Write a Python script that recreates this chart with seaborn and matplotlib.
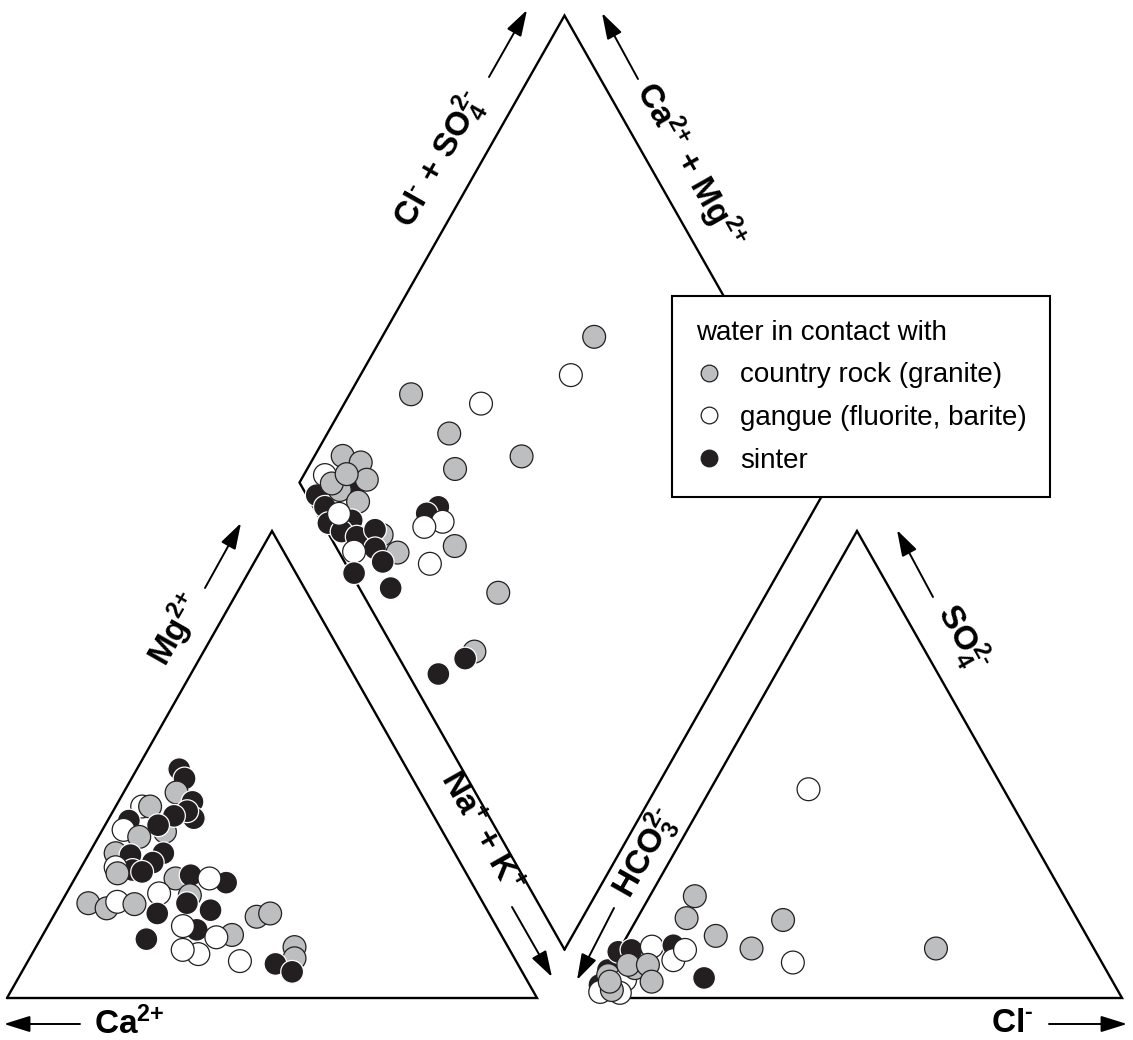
import numpy as np
import pandas as pd
import matplotlib
matplotlib.use("Agg")
import matplotlib.pyplot as plt
from matplotlib.lines import Line2D
import seaborn as sns

# --- data --------------------------------------------------------------
# g = country rock, w = gangue, b = sinter ; listed back-to-front

# cation triangle: Mg2+ %, Na+ + K+ %
cat_grp = ["b", "b", "g", "b", "g", "b", "b", "w", "g", "b", "b", "b", "w", "g", "g",
           "b", "b", "b", "b", "b", "w", "g",
           "g", "b", "b", "w", "g", "g", "w", "g", "w", "g", "b", "b", "b", "g", "g",
           "b", "g", "w", "w", "b", "w", "w", "w", "g", "g", "b", "b"]
cat_mg = [49, 47, 44, 42, 35.6, 38.5, 40, 41, 41, 38, 39, 37, 36, 34.5, 31,
          30.6, 31, 27.4, 29, 27, 28, 26.7,
          25.6, 26.3, 24.7, 25.6, 20.3, 19.2, 20.6, 20.1, 22.4, 22, 20.3, 18.1, 18.8, 17.4, 18.1,
          14.6, 13.5, 15.4, 13, 12.6, 9.4, 10.3, 7.9, 10.9, 8.5, 7.3, 5.6]
cat_nak = [8, 10, 10, 14, 12, 16, 14, 5, 6.5, 4, 12, 10, 4, 7.7, 5,
           8, 14, 10, 13, 12, 6.5, 7.5,
           19, 21.5, 29, 25.4, 5.2, 9.2, 10.5, 14, 17.5, 23.5, 23.8, 19.3, 29, 38.4, 40.6,
           28.5, 35.7, 25.5, 33, 20, 31.4, 28, 40, 48.8, 50, 47, 51]

# anion triangle: SO4 2- %, Cl- %
an_grp = ["b", "b", "w", "b", "b", "g", "w", "g", "g", "w", "g", "g", "w", "b", "g",
          "w", "w", "g", "b", "g", "g", "g", "g", "g", "w", "g", "w"]
an_so4 = [2.8, 6, 1.3, 9.9, 10.3, 4.9, 3.9, 6.4, 7.1, 1.1, 1.7, 3.5, 11, 11.3, 7.1,
          8.1, 10.3, 3.5, 4.3, 21.8, 17.1, 13.3, 10.6, 16.7, 7.6, 10.6, 44.7]
an_cl = [0, 0, 0.9, 0, 2.3, 0.6, 4.3, 4.9, 3.3, 4.7, 2.9, 1.6, 5.8, 9.7, 7,
         11.3, 12.4, 9.5, 19, 8.5, 9.3, 16.7, 24.8, 27.7, 34.1, 59.6, 18.5]

# diamond: Cl- + SO4 2- %, Ca2+ + Mg2+ %
dia_grp = ["g", "w", "g", "w", "g", "g", "g", "b", "b", "b", "w", "g", "g", "g", "g",
           "g", "g", "g", "b", "b", "b", "b", "w", "g", "b", "b", "g", "b", "w", "b",
           "b", "b", "b", "w", "w", "g", "w", "g", "g", "b", "b"]
dia_an = [71.2, 62.7, 30.5, 42.7, 33.5, 30.8, 44.7, 1.9, 2.2, 9.2, 5.6, 11.0, 13.7, 13.0, 6.8,
          6.0, 9.8, 9.0, 5.8, 1.1, 2.7, 5.0, 4.1, 9.9, 9.2, 7.2, 11.0, 7.2, 2.9, 0.6,
          5.9, 23.6, 20.7, 22.8, 18.8, 22.5, 15.9, 25.7, 14.9, 12.4, 5.7]
dia_cat = [60.0, 60.3, 88.4, 74.2, 77.0, 72.1, 60.9, 95.4, 92.6, 88.9, 96.0, 94.7, 90.6, 87.6, 91.6,
           93.8, 92.0, 86.9, 86.1, 90.2, 86.8, 83.4, 89.2, 78.9, 80.7, 78.7, 74.0, 75.8, 82.3, 80.0,
           71.5, 71.2, 72.7, 68.8, 71.7, 63.9, 66.7, 50.7, 48.9, 49.9, 53.3]

group_names = {"g": "country rock (granite)", "w": "gangue (fluorite, barite)", "b": "sinter"}
palette = {"country rock (granite)": "#bcbec0",
           "gangue (fluorite, barite)": "#ffffff",
           "sinter": "#231f20"}
edges = {"country rock (granite)": "#231f20",
         "gangue (fluorite, barite)": "#231f20",
         "sinter": "#ffffff"}

# --- geometry (triangle side = 100 units) ------------------------------
S = 5.3            # px per unit
X0, Y0 = 7, 998    # pixel position of the Ca2+ corner
H = 467 / S        # triangle height
GAP = 585 / S - 100
XR = 100 + GAP     # left corner of the anion triangle
DB = (100 + GAP / 2, GAP * H / 100)   # bottom vertex of the diamond


def cation_xy(mg, nak):
    mg, nak = np.asarray(mg), np.asarray(nak)
    return nak + mg / 2, mg * H / 100


def anion_xy(so4, cl):
    so4, cl = np.asarray(so4), np.asarray(cl)
    return XR + cl + so4 / 2, so4 * H / 100


def diamond_xy(an, cat):
    an, cat = np.asarray(an), np.asarray(cat)
    return DB[0] + 0.5 * (an - cat), DB[1] + (an + cat) * H / 100


def px(xp, yp):
    return (xp - X0) / S, (Y0 - yp) / S


def frame(pts):
    xs, ys = zip(*(pts + [pts[0]]))
    return xs, ys


sns.set_theme(style="white")
plt.rcParams["font.family"] = ["Liberation Sans", "DejaVu Sans"]
plt.rcParams["text.color"] = "black"
plt.rcParams["mathtext.fontset"] = "custom"
plt.rcParams["mathtext.rm"] = "Liberation Sans:bold"
plt.rcParams["mathtext.default"] = "regular"

fig = plt.figure(figsize=(11.33, 10.40), dpi=100)
ax = fig.add_axes([0, 0, 1, 1])
ax.set_xlim(-X0 / S, (1133 - X0) / S)
ax.set_ylim((Y0 - 1040) / S, Y0 / S)
ax.axis("off")

lw = 1.7
tri_l = [(0, 0), (100, 0), (50, H)]
tri_r = [(XR, 0), (XR + 100, 0), (XR + 50, H)]
dia = [DB, (DB[0] - 50, DB[1] + H), (DB[0], DB[1] + 2 * H), (DB[0] + 50, DB[1] + H)]
for poly in (tri_l, tri_r, dia):
    xs, ys = frame(poly)
    ax.plot(xs, ys, color="black", lw=lw, solid_joinstyle="miter", zorder=1)

# --- points --------------------------------------------------------------
panels = []
x, y = cation_xy(cat_mg, cat_nak)
panels.append(pd.DataFrame({"x": x, "y": y, "group": [group_names[g] for g in cat_grp]}))
x, y = anion_xy(an_so4, an_cl)
panels.append(pd.DataFrame({"x": x, "y": y, "group": [group_names[g] for g in an_grp]}))
x, y = diamond_xy(dia_an, dia_cat)
panels.append(pd.DataFrame({"x": x, "y": y, "group": [group_names[g] for g in dia_grp]}))

for df in panels:
    sns.scatterplot(data=df, x="x", y="y", hue="group", palette=palette, s=270,
                    edgecolor=[edges[g] for g in df["group"]], linewidth=0.9,
                    legend=False, ax=ax, zorder=3)
ax.set_xlabel("")
ax.set_ylabel("")

# --- axis labels and arrows ---------------------------------------------
lab = dict(fontsize=24, fontweight="bold", ha="center", va="center",
           rotation_mode="anchor", color="black")
ang = np.degrees(np.arctan2(H, 50))
arrow = dict(arrowstyle="-|>,head_length=0.8,head_width=0.25", color="black",
             lw=1.4, shrinkA=0, shrinkB=0, mutation_scale=20)


def arr(p0, p1):
    ax.annotate("", xy=px(*p1), xytext=px(*p0), arrowprops=arrow, zorder=4)


ax.text(*px(440, 160), r"Cl$^{\text{-}}$ + SO$_{\text{4}}^{\text{2-}}$", rotation=ang, **lab)
arr((489, 77), (527, 10))
ax.text(*px(690, 165), r"Ca$^{\text{2+}}$ + Mg$^{\text{2+}}$", rotation=-ang, **lab)
arr((638, 79), (602, 13))
ax.text(*px(176, 630), r"Mg$^{\text{2+}}$", rotation=ang, **lab)
arr((205, 588), (241, 523))
ax.text(*px(480, 832), r"Na$^{\text{+}}$ + K$^{\text{+}}$", rotation=-ang, **lab)
arr((512, 907), (552, 977))
ax.text(*px(646, 853), r"HCO$_{\text{3}}^{\text{2-}}$", rotation=ang, **lab)
arr((614, 908), (577, 980))
ax.text(*px(962, 638), r"SO$_{\text{4}}^{\text{2-}}$", rotation=-ang, **lab)
arr((933, 597), (897, 530))

ax.text(*px(94, 1024), r"Ca$^{\text{2+}}$", fontsize=24, fontweight="bold", ha="left", va="center")
arr((80, 1024), (4, 1024))
ax.text(*px(1033, 1024), r"Cl$^{\text{-}}$", fontsize=24, fontweight="bold", ha="right", va="center")
arr((1049, 1024), (1127, 1024))

# --- legend ----------------------------------------------------------------
handles = [Line2D([], [], ls="", marker="o", markersize=12, markerfacecolor=palette[n],
                  markeredgecolor="#231f20", markeredgewidth=0.9)
           for n in palette]
leg = ax.legend(handles, list(palette), title="water in contact with",
                loc="upper left", bbox_to_anchor=(672 / 1133, 1 - 296 / 1040),
                bbox_transform=fig.transFigure, borderaxespad=0,
                fontsize=20, title_fontsize=20, alignment="left",
                frameon=True, fancybox=False, framealpha=1, edgecolor="black",
                borderpad=0.85, labelspacing=0.6, handlelength=1.0, handletextpad=0.6)
leg.get_frame().set_linewidth(1.5)
leg.set_zorder(5)

fig.savefig("out.png", dpi=100, facecolor="white")
